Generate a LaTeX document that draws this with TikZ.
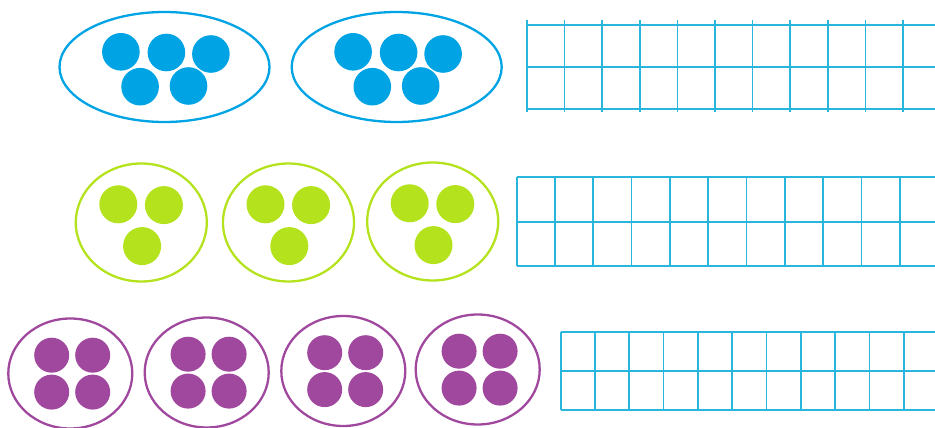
\documentclass[tikz,border=0pt]{standalone}
\usetikzlibrary{shapes.geometric}

\definecolor{dotblue}{RGB}{0,163,228}
\definecolor{dotgreen}{RGB}{180,227,30}
\definecolor{dotpurple}{RGB}{160,72,158}
\definecolor{gridblue}{RGB}{40,182,220}

\begin{document}
\begin{tikzpicture}[
        x=1pt, y=-1pt,
        bag/.style={draw, ellipse, inner sep=0pt, line width=2.3pt},
        bluebag/.style={bag, draw=dotblue, minimum width=210pt, minimum height=110pt},
        greenbag/.style={bag, draw=dotgreen, minimum width=131pt, minimum height=118pt},
        purplebag/.style={bag, draw=dotpurple, minimum width=124pt, minimum height=110pt},
        gridline/.style={draw=gridblue, line width=1.7pt}
    ]
        \useasboundingbox (0,0) rectangle (935,428);

        % bags of five
        \node[bluebag] (b1) at (164.5,67) {};
        \node[bluebag] (b2) at (396.7,67) {};
        % bags of three
        \node[greenbag] (g1) at (141.3,222.5) {};
        \node[greenbag] (g2) at (288.5,222.5) {};
        \node[greenbag] (g3) at (432.7,221.5) {};
        % bags of four
        \node[purplebag] (p1) at (70.3,373.5) {};
        \node[purplebag] (p2) at (206.7,372.5) {};
        \node[purplebag] (p3) at (343.3,371) {};
        \node[purplebag] (p4) at (477.7,369.5) {};

        % dots
        \foreach \b in {b1,b2}
            \foreach \dx/\dy in {-43.6/-15.2, 1.9/-14.5, 46.4/-13, -24.4/19.7, 24/19}
                \fill[dotblue] ([shift={(\dx,\dy)}]\b.center) circle (18.8pt);
        \foreach \b in {g1,g2,g3}
            \foreach \dx/\dy in {-23/-18.2, 22.6/-17.4, 0.8/23.6}
                \fill[dotgreen] ([shift={(\dx,\dy)}]\b.center) circle (19pt);
        \foreach \b in {p1,p2,p3,p4}
            \foreach \dx/\dy in {-18.6/-18.3, 22.4/-18.3, -18.6/18.6, 22.4/18.6}
                \fill[dotpurple] ([shift={(\dx,\dy)}]\b.center) circle (17.5pt);

        % ten frames
        \foreach \i in {0,...,10}
            \draw[gridline] (527+37.6*\i,20.5) -- (527+37.6*\i,111.5);
        \foreach \y in {24.7,66.7,109}
            \draw[gridline] (527,\y) -- (935,\y);

        \foreach \i in {0,...,10}
            \draw[gridline] (516.7+38.3*\i,177.3) -- (516.7+38.3*\i,265.7);
        \foreach \y in {177.3,221.7,265.7}
            \draw[gridline] (516.7,\y) -- (935,\y);

        \foreach \i in {0,...,10}
            \draw[gridline] (560.7+34.3*\i,331.7) -- (560.7+34.3*\i,410);
        \foreach \y in {331.7,371,410}
            \draw[gridline] (560.7,\y) -- (935,\y);
\end{tikzpicture}
\end{document}
